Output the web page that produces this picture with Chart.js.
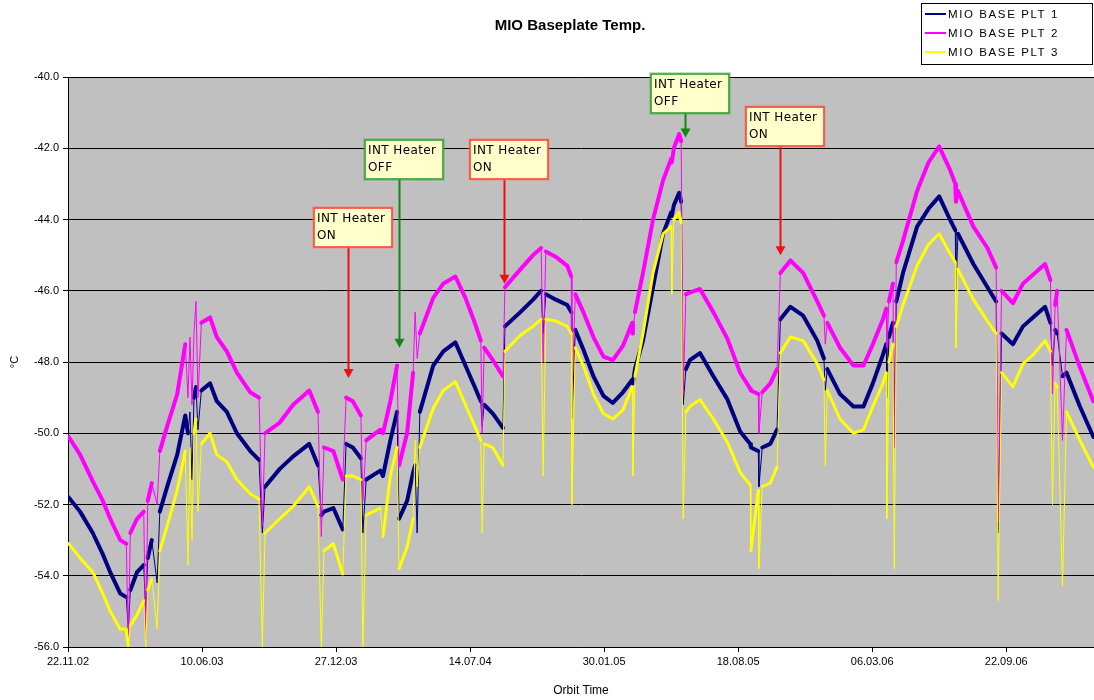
<!DOCTYPE html>
<html>
<head>
<meta charset="utf-8">
<title>MIO Baseplate Temp.</title>
<script src="https://cdn.jsdelivr.net/npm/chart.js@4.4.1/dist/chart.umd.min.js"></script>
<style>
  body { margin: 0; background: #fff; }
  canvas { display: block; }
</style>
</head>
<body>
<canvas id="baseplate" width="1094" height="700"></canvas>
<script>
// Orbit time, in days counted from 22.11.02
const days = [
  1, 18, 37, 52, 63, 78, 87, 90, 93, 103, 113, 116, 119, 125, 133, 137, 148, 163, 175, 179,
  182, 185, 188, 191, 194, 199, 212, 222, 237, 252, 272, 285, 290, 294, 316, 336, 360, 373, 378, 382,
  396, 410, 415, 425, 437, 440, 445, 466, 470, 481, 491, 494, 506, 515, 518, 521, 525, 545, 560, 578,
  593, 607, 616, 618, 621, 634, 649, 652, 675, 694, 706, 709, 713, 728, 745, 751, 752, 757, 769, 784,
  799, 813, 828, 842, 843, 846, 858, 873, 888, 900, 901, 904, 912, 915, 918, 922, 928, 943, 963, 984,
  1003, 1018, 1019, 1030, 1031, 1036, 1048, 1058, 1063, 1078, 1097, 1118, 1128, 1130, 1133, 1152, 1172, 1187, 1201, 1216,
  1221, 1222, 1225, 1231, 1233, 1236, 1246, 1267, 1284, 1300, 1316, 1324, 1325, 1328, 1351, 1372, 1385, 1388, 1393, 1410,
  1425, 1440, 1458, 1466, 1469, 1473, 1476, 1484, 1490, 1510, 1530
];

// MIO BASE PLT 1 (deg C)
const plt1 = [
  -51.8, -52.2, -52.8, -53.4, -53.9, -54.5, -54.6, -55.5, -54.4, -53.9, -53.7, -55.0, -53.5, -53.0, -54.2, -52.2, -51.5, -50.6, -49.5, -50.0,
  -49.4, -51.3, -49.0, -48.7, -49.9, -48.8, -48.6, -49.1, -49.4, -50.0, -50.5, -50.75, -52.8, -51.5, -51.0, -50.65, -50.3, -50.9, -52.3, -52.2,
  -52.1, -52.7, -50.3, -50.4, -50.7, -52.8, -51.3, -51.05, -51.2, -50.2, -49.4, -52.4, -51.9, -51.1, -50.9, -52.8, -49.4, -48.1, -47.7, -47.45,
  -48.1, -48.7, -49.1, -49.8, -49.2, -49.45, -49.85, -47.0, -46.6, -46.25, -46.0, -47.2, -46.1, -46.25, -46.4, -46.6, -49.6, -47.1, -47.65, -48.4,
  -48.95, -49.15, -48.85, -48.5, -48.6, -48.2, -47.4, -45.9, -44.4, -43.8, -43.9, -43.6, -43.25, -43.5, -49.2, -48.2, -47.95, -47.75, -48.4, -49.05,
  -49.95, -50.3, -50.4, -50.5, -51.5, -50.4, -50.3, -49.9, -46.8, -46.45, -46.7, -47.4, -47.9, -48.8, -48.2, -48.9, -49.25, -49.25, -48.6, -47.8,
  -47.5, -49.0, -47.3, -46.9, -49.5, -46.3, -45.5, -44.2, -43.7, -43.35, -44.0, -44.3, -46.0, -44.4, -45.25, -45.9, -46.3, -52.8, -47.2, -47.5,
  -47.0, -46.75, -46.45, -46.9, -48.1, -47.1, -47.2, -48.4, -48.3, -49.25, -50.1
];

// MIO BASE PLT 2 (deg C)
const plt2 = [
  -50.1, -50.6, -51.35, -51.9, -52.4, -53.0, -53.1, -55.9, -52.8, -52.4, -52.2, -55.8, -51.9, -51.4, -52.0, -50.5, -49.8, -48.9, -47.5, -49.0,
  -47.3, -49.2, -47.2, -46.3, -49.0, -46.9, -46.75, -47.3, -47.7, -48.3, -48.85, -49.0, -52.6, -50.0, -49.7, -49.2, -48.8, -49.4, -52.9, -50.4,
  -50.5, -51.3, -49.0, -49.1, -49.5, -51.9, -50.2, -49.9, -50.0, -49.1, -48.1, -50.9, -50.0, -48.3, -46.6, -47.9, -47.2, -46.2, -45.8, -45.6,
  -46.2, -46.9, -47.4, -50.0, -47.6, -47.95, -48.4, -45.9, -45.4, -45.0, -44.8, -48.0, -44.9, -45.05, -45.3, -45.6, -48.8, -46.1, -46.6, -47.3,
  -47.85, -47.95, -47.55, -46.9, -47.2, -46.6, -45.5, -44.0, -42.9, -42.3, -42.4, -42.0, -41.6, -41.8, -48.9, -46.1, -46.05, -45.95, -46.6, -47.35,
  -48.3, -48.75, -48.8, -48.9, -50.0, -48.85, -48.6, -48.2, -45.5, -45.15, -45.5, -46.3, -46.7, -47.5, -46.9, -47.6, -48.1, -48.1, -47.5, -46.8,
  -46.5, -47.6, -46.3, -45.8, -50.4, -45.2, -44.6, -43.2, -42.4, -41.95, -42.6, -43.0, -43.5, -43.2, -44.2, -44.8, -45.35, -52.5, -46.0, -46.35,
  -45.8, -45.55, -45.25, -45.7, -48.9, -46.4, -46.0, -50.2, -47.1, -48.15, -49.1
];

// MIO BASE PLT 3 (deg C)
const plt3 = [
  -53.1, -53.5, -53.9, -54.5, -55.0, -55.5, -55.5, -56.0, -55.4, -55.1, -54.7, -56.0, -54.4, -54.1, -55.5, -53.3, -52.6, -51.6, -50.5, -53.7,
  -50.4, -53.0, -50.0, -49.6, -52.2, -50.3, -50.0, -50.6, -50.8, -51.3, -51.7, -51.85, -56.0, -52.8, -52.4, -52.05, -51.5, -52.05, -56.0, -53.3,
  -53.1, -53.95, -51.2, -51.2, -51.3, -56.0, -52.3, -52.1, -52.9, -51.2, -50.4, -53.8, -53.2, -52.4, -50.2, -51.5, -50.4, -49.3, -48.8, -48.55,
  -49.2, -49.8, -50.2, -52.8, -50.3, -50.4, -50.9, -47.7, -47.25, -47.0, -46.8, -51.2, -46.8, -46.85, -47.0, -47.2, -52.0, -47.6, -48.1, -48.9,
  -49.45, -49.6, -49.35, -48.7, -51.2, -48.4, -47.2, -45.5, -44.4, -44.2, -46.1, -44.0, -43.8, -44.1, -52.4, -49.4, -49.25, -49.05, -49.6, -50.25,
  -51.1, -51.45, -53.3, -51.6, -53.8, -51.5, -51.4, -50.95, -47.75, -47.3, -47.4, -48.05, -48.5, -50.9, -48.8, -49.6, -50.0, -49.9, -49.25, -48.6,
  -48.3, -52.4, -48.0, -47.5, -53.8, -47.0, -46.4, -45.3, -44.7, -44.4, -44.95, -45.2, -47.6, -45.4, -46.25, -46.85, -47.2, -54.7, -48.3, -48.7,
  -48.05, -47.8, -47.4, -47.7, -52.0, -48.6, -48.7, -54.3, -49.4, -50.2, -50.95
];

const seriesNames = ['MIO BASE PLT 1', 'MIO BASE PLT 2', 'MIO BASE PLT 3'];
const seriesColors = ['#000080', '#ff00ff', '#ffff00'];

// heater switching events: day, temperature the arrow points at, new state
const heaterDays = [418, 494, 651, 921, 1063];
const heaterTemps = [-48.45, -47.6, -45.8, -41.7, -45.0];
const heaterStates = ['ON', 'OFF', 'ON', 'OFF', 'ON'];
const calloutTops = [208, 140, 140, 74, 107];

const startDate = Date.UTC(2002, 10, 22);

function dayLabel(d) {
  const t = new Date(startDate + d * 86400000);
  const dd = String(t.getUTCDate()).padStart(2, '0');
  const mm = String(t.getUTCMonth() + 1).padStart(2, '0');
  const yy = String(t.getUTCFullYear() % 100).padStart(2, '0');
  return dd + '.' + mm + '.' + yy;
}

function points(values) {
  return days.map((d, i) => ({ x: d, y: values[i] }));
}

// short near-vertical jumps and dropouts are hairlines, the rest a heavy trace
function segmentWidth(base) {
  return (ctx) => {
    const dx = Math.abs(ctx.p1.x - ctx.p0.x);
    const dy = Math.abs(ctx.p1.y - ctx.p0.y);
    return dx < 6 && dy > 18 ? 1 : base;
  };
}

const FONT = "'Liberation Sans', Arial, sans-serif";

// grey plot area behind the traces
const plotBackground = {
  id: 'plotBackground',
  beforeDraw(chart) {
    const { ctx, chartArea: a } = chart;
    ctx.save();
    ctx.fillStyle = '#fff';
    ctx.fillRect(0, 0, chart.width, chart.height);
    ctx.fillStyle = '#c0c0c0';
    ctx.fillRect(a.left, a.top, a.right - a.left, a.bottom - a.top);
    ctx.restore();
  }
};

// title, boxed legend and the heater callouts
const decorations = {
  id: 'decorations',
  afterDraw(chart) {
    const { ctx } = chart;
    const xs = chart.scales.x, ys = chart.scales.y;
    ctx.save();

    ctx.fillStyle = '#000';
    ctx.font = 'bold 15px ' + FONT;
    ctx.textAlign = 'center';
    ctx.textBaseline = 'middle';
    ctx.fillText('MIO Baseplate Temp.', 570, 26);

    // legend
    ctx.fillStyle = '#fff';
    ctx.fillRect(921, 3, 172, 62);
    ctx.strokeStyle = '#000';
    ctx.lineWidth = 1;
    ctx.strokeRect(921.5, 3.5, 171, 61);
    ctx.font = '11.5px ' + FONT;
    ctx.letterSpacing = '1.6px';
    ctx.textAlign = 'left';
    chart.data.datasets.forEach((ds, i) => {
      const ly = 14 + i * 19;
      ctx.strokeStyle = ds.borderColor;
      ctx.lineWidth = 2;
      ctx.beginPath();
      ctx.moveTo(925, ly);
      ctx.lineTo(946, ly);
      ctx.stroke();
      ctx.fillStyle = '#000';
      ctx.fillText(ds.label, 948, ly + 1);
    });

    // heater callouts
    ctx.font = "12px 'DejaVu Sans', sans-serif";
    ctx.letterSpacing = '0.4px';
    heaterDays.forEach((d, i) => {
      const on = heaterStates[i] === 'ON';
      const edge = on ? '#ff4433' : '#33a033';
      const arrow = on ? '#ee1111' : '#118811';
      const tipX = Math.round(xs.getPixelForValue(d)) + 0.5;
      const tipY = ys.getPixelForValue(heaterTemps[i]);
      const left = Math.round(tipX - 35), top = calloutTops[i];
      const w = 78, h = 39;

      ctx.strokeStyle = arrow;
      ctx.lineWidth = 2;
      ctx.beginPath();
      ctx.moveTo(tipX, top + h);
      ctx.lineTo(tipX, tipY - 8);
      ctx.stroke();
      ctx.fillStyle = arrow;
      ctx.beginPath();
      ctx.moveTo(tipX - 5, tipY - 9);
      ctx.lineTo(tipX + 5, tipY - 9);
      ctx.lineTo(tipX, tipY);
      ctx.closePath();
      ctx.fill();

      ctx.fillStyle = '#ffffcc';
      ctx.fillRect(left, top, w, h);
      ctx.strokeStyle = on ? 'rgba(255,120,100,0.35)' : 'rgba(80,170,80,0.35)';
      ctx.lineWidth = 3;
      ctx.strokeRect(left - 0.5, top - 0.5, w + 1, h + 1);
      ctx.strokeStyle = edge;
      ctx.lineWidth = 1.5;
      ctx.strokeRect(left, top, w, h);

      ctx.fillStyle = '#000';
      ctx.textAlign = 'left';
      ctx.fillText('INT Heater', left + 3, top + 11);
      ctx.fillText(heaterStates[i], left + 3, top + 28);
    });
    ctx.restore();
  }
};

const chart = new Chart(document.getElementById('baseplate'), {
  type: 'line',
  data: {
    datasets: [plt1, plt2, plt3].map((vals, i) => ({
      label: seriesNames[i],
      data: points(vals),
      borderColor: seriesColors[i],
      backgroundColor: seriesColors[i],
      borderWidth: i === 2 ? 3 : 4,
      borderJoinStyle: 'round',
      borderCapStyle: 'round',
      segment: { borderWidth: segmentWidth(i === 2 ? 3 : 4) },
      pointRadius: 0,
      tension: 0,
      fill: false,
      order: 3 - i
    }))
  },
  options: {
    responsive: false,
    animation: false,
    layout: { padding: { top: 77, right: 0, bottom: 0, left: 0 } },
    plugins: {
      legend: { display: false },
      title: { display: false },
      tooltip: { enabled: false }
    },
    scales: {
      x: {
        type: 'linear',
        min: 0,
        max: 1531,
        afterFit(scale) { scale.height = 53; },
        grid: { drawOnChartArea: false, color: '#000', tickLength: 5 },
        border: { color: '#000', width: 1 },
        ticks: {
          stepSize: 200,
          includeBounds: false,
          autoSkip: false,
          maxRotation: 0,
          padding: 3,
          color: '#000',
          font: { family: FONT, size: 11 },
          callback: (v) => dayLabel(v)
        },
        title: {
          display: true,
          text: 'Orbit Time',
          color: '#000',
          font: { family: FONT, size: 12 },
          padding: { top: 0, bottom: 2 }
        }
      },
      y: {
        min: -56,
        max: -40,
        afterFit(scale) { scale.width = 68; },
        grid: { color: '#000', lineWidth: 1, tickLength: 5 },
        border: { color: '#000', width: 1 },
        ticks: {
          stepSize: 2,
          padding: 4,
          color: '#000',
          font: { family: FONT, size: 11 },
          callback: (v) => v.toFixed(1)
        },
        title: {
          display: true,
          text: '°C',
          color: '#000',
          font: { family: FONT, size: 11 },
          padding: { top: 8, bottom: 0 }
        }
      }
    }
  },
  plugins: [plotBackground, decorations]
});
</script>
</body>
</html>
